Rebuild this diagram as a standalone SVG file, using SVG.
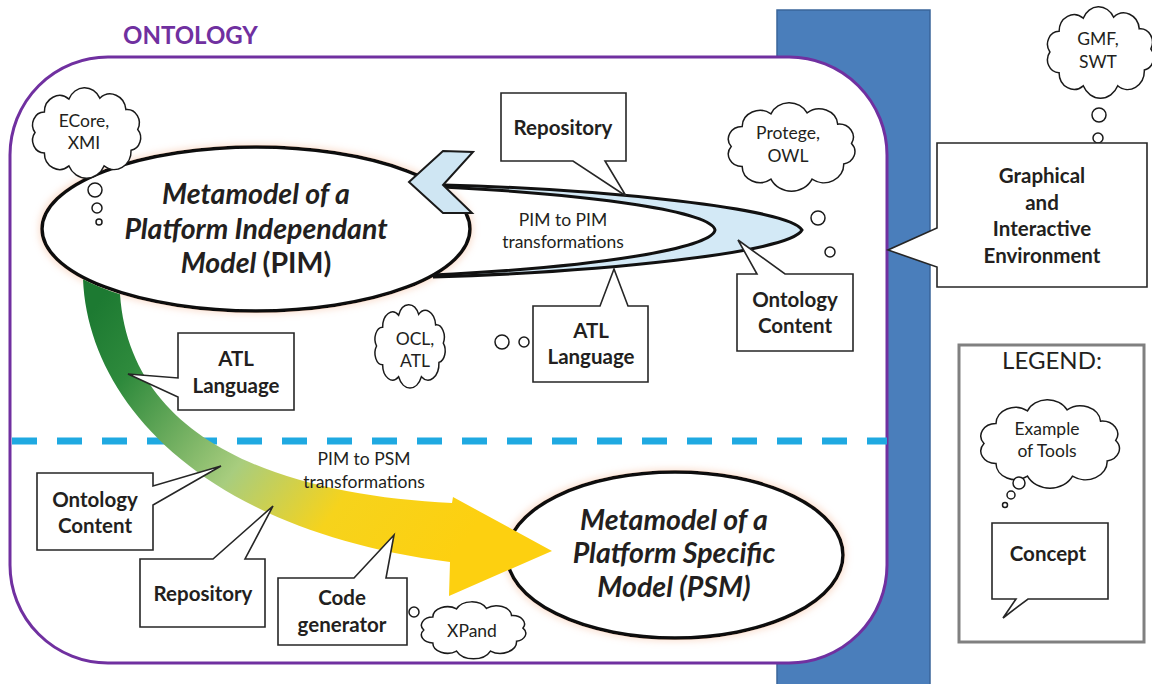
<svg xmlns="http://www.w3.org/2000/svg" width="1152" height="684" viewBox="0 0 1152 684">
<defs>
<style>
.cloud{fill:#fff;stroke:#1a1a1a;stroke-width:1.5}
.bub{fill:#fff;stroke:#1a1a1a;stroke-width:1.5}
.call{fill:#fff;stroke:#262626;stroke-width:1.6;stroke-linejoin:miter}
.ell{fill:#fff;stroke:#111;stroke-width:3.5}
.t{font-family:Lato,'Open Sans',sans-serif;fill:#231f20;text-anchor:middle}
.tb{font-weight:bold;font-size:20.5px}
.tc{font-size:17.5px}
.big{font-weight:bold;font-style:italic;font-size:28.5px}
.loop{fill:none;stroke:#111;stroke-width:3}
</style>
<symbol id="cloud" viewBox="0 0 100 70" preserveAspectRatio="none" overflow="visible">
<path class="cloud" vector-effect="non-scaling-stroke" d="M6,35 A10,10 0 0 1 14,18.9 A13,13 0 0 1 35,8.7 A14.5,14.5 0 0 1 61.4,8 A13.5,13.5 0 0 1 83.7,17 A10.5,10.5 0 0 1 93.8,32.6 A10,10 0 0 1 88.1,49 A14.5,14.5 0 0 1 65,61.3 A16.5,16.5 0 0 1 35,61.3 A13,13 0 0 1 14,51.1 A10,10 0 0 1 6,35 Z"/>
</symbol>
<linearGradient id="band" gradientUnits="userSpaceOnUse" x1="100" y1="300" x2="450" y2="560">
<stop offset="0" stop-color="#1d7a32"/>
<stop offset="0.15" stop-color="#2e8a3c"/>
<stop offset="0.48" stop-color="#a8cd7e"/>
<stop offset="0.72" stop-color="#f6d31c"/>
<stop offset="1" stop-color="#fdd010"/>
</linearGradient>
<filter id="glow" x="-10%" y="-20%" width="120%" height="140%">
<feMorphology in="SourceAlpha" operator="dilate" radius="2" result="d"/>
<feGaussianBlur in="d" stdDeviation="3" result="b"/>
<feFlood flood-color="#f3b38f" flood-opacity="0.35"/>
<feComposite in2="b" operator="in" result="g"/>
<feMerge><feMergeNode in="g"/><feMergeNode in="SourceGraphic"/></feMerge>
</filter>
</defs>

<g id="environment-bar">
<rect x="777" y="10" width="153" height="680" fill="#4a7ebb" stroke="#3a659a" stroke-width="1.5"/>
</g>

<g id="ontology-container">
<rect x="10" y="57" width="877" height="606" rx="98" ry="98" fill="#fff" stroke="#7030a0" stroke-width="3"/>
<text x="123" y="44" font-family="Lato,'Open Sans',sans-serif" font-weight="bold" font-size="24" fill="#7030a0">ONTOLOGY</text>
</g>

<g id="pim">
<ellipse class="ell" cx="256" cy="229" rx="214" ry="82" filter="url(#glow)"/>
<text class="t big" x="256" y="204">Metamodel of a</text>
<text class="t big" x="256" y="239">Platform Independant</text>
<text class="t big" x="256" y="273">Model <tspan font-style="normal">(PIM)</tspan></text>
</g>

<g id="psm">
<ellipse class="ell" cx="675" cy="555" rx="168" ry="83" filter="url(#glow)"/>
<text class="t big" x="674" y="530">Metamodel of a</text>
<text class="t big" x="674" y="563">Platform Specific</text>
<text class="t big" x="674" y="597">Model (PSM)</text>
</g>

<g id="connectors">
<line x1="12" y1="441" x2="887" y2="441" stroke="#1fa9e1" stroke-width="7" stroke-dasharray="25 20"/>
<path d="M83,279.3 C88,400 200,530 450,562 L449,596 L552,551 L453,497 L452,503 C280,495 130,440 120,294.3 A216,84 0 0 1 83,279.3 Z" fill="url(#band)"/>
<path d="M443,185 C600,189 790,208 802,230 C790,253 600,272 433,277 L433,275 C600,267 712,248 715,230 C712,212 600,195 443,187 Z" fill="#d3e9f6"/>
<path class="loop" d="M443,185 C600,189 790,208 802,230 C790,253 600,272 433,277"/>
<path class="loop" d="M443,187 C600,195 712,212 715,230 C712,248 600,267 433,275"/>
<path d="M409,182 L443,151 L473,152 L443,185 L472,213 L443,213 Z" fill="#cfe6f3" stroke="#1a1a1a" stroke-width="2" stroke-linejoin="miter"/>
<text class="t tc" x="563" y="226">PIM to PIM</text>
<text class="t tc" x="563" y="248">transformations</text>
<text class="t tc" x="364" y="465">PIM to PSM</text>
<text class="t tc" x="364" y="488">transformations</text>
</g>

<g id="cloud-ecore">
<use href="#cloud" x="28" y="88" width="117" height="89"/>
<circle class="bub" cx="95" cy="190" r="7"/>
<circle class="bub" cx="97" cy="208" r="5"/>
<circle class="bub" cx="99" cy="222" r="3"/>
<text class="t tc" x="84" y="127">ECore,</text>
<text class="t tc" x="84" y="149">XMI</text>
</g>

<g id="cloud-protege">
<use href="#cloud" x="723" y="103" width="137" height="87"/>
<circle class="bub" cx="818" cy="218" r="7"/>
<circle class="bub" cx="830" cy="252" r="5"/>
<circle class="bub" cx="840" cy="280" r="3"/>
<text class="t tc" x="788" y="139">Protege,</text>
<text class="t tc" x="788" y="162">OWL</text>
</g>

<g id="cloud-gmf">
<use href="#cloud" x="1043" y="7" width="115" height="90"/>
<circle class="bub" cx="1099" cy="115" r="7"/>
<circle class="bub" cx="1098" cy="138" r="5"/>
<circle class="bub" cx="1098" cy="159" r="3"/>
<text class="t tc" x="1098" y="45">GMF,</text>
<text class="t tc" x="1098" y="68">SWT</text>
</g>

<g id="cloud-ocl">
<use href="#cloud" x="372" y="305" width="76" height="82"/>
<circle class="bub" cx="502" cy="342" r="7"/>
<circle class="bub" cx="524" cy="342" r="5"/>
<circle class="bub" cx="542" cy="340" r="3"/>
<text class="t tc" x="415" y="345">OCL,</text>
<text class="t tc" x="415" y="367">ATL</text>
</g>

<g id="cloud-xpand">
<use href="#cloud" x="417" y="602" width="113" height="56"/>
<circle class="bub" cx="414" cy="612" r="5"/>
<circle class="bub" cx="397" cy="606" r="3.5"/>
<circle class="bub" cx="383" cy="602" r="2"/>
<text class="t tc" x="472" y="637">XPand</text>
</g>

<g id="callout-repository-top">
<path class="call" d="M501,93 H626 V161 H605 L626,196 L573,161 H501 Z"/>
<text class="t tb" x="563" y="135">Repository</text>
</g>

<g id="callout-atl-top">
<path class="call" d="M533,306 H600 L614,269 L628,306 H648 V382 H533 Z"/>
<text class="t tb" x="591" y="338">ATL</text>
<text class="t tb" x="591" y="364">Language</text>
</g>

<g id="callout-ontology-right">
<path class="call" d="M737,274 H757 L738,240 L785,274 H853 V351 H737 Z"/>
<text class="t tb" x="795" y="307">Ontology</text>
<text class="t tb" x="795" y="333">Content</text>
</g>

<g id="callout-graphical">
<path class="call" d="M937,143 H1147 V287 H937 V267 L888,250 L937,228 Z"/>
<text class="t tb" x="1042" y="183">Graphical</text>
<text class="t tb" x="1042" y="210">and</text>
<text class="t tb" x="1042" y="236">Interactive</text>
<text class="t tb" x="1042" y="263">Environment</text>
</g>

<g id="callout-atl-left">
<path class="call" d="M178,333 H294 V410 H178 V397 L128,374 L178,378 Z"/>
<text class="t tb" x="236" y="366">ATL</text>
<text class="t tb" x="236" y="393">Language</text>
</g>

<g id="callout-ontology-left">
<path class="call" d="M37,473 H153 V486 L221,466 L153,505 V550 H37 Z"/>
<text class="t tb" x="95" y="507">Ontology</text>
<text class="t tb" x="95" y="533">Content</text>
</g>

<g id="callout-repository-bottom">
<path class="call" d="M140,559 H213 L273,506 L245,559 H265 V627 H140 Z"/>
<text class="t tb" x="203" y="601">Repository</text>
</g>

<g id="callout-code-generator">
<path class="call" d="M278,578 H354 L394,535 L386,578 H407 V645 H278 Z"/>
<text class="t tb" x="342" y="605">Code</text>
<text class="t tb" x="342" y="632">generator</text>
</g>

<g id="legend">
<rect x="959" y="345" width="185" height="297" fill="#fff" stroke="#808080" stroke-width="3"/>
<text class="t" x="1052" y="369" font-size="24">LEGEND:</text>
<use href="#cloud" x="975" y="400" width="150" height="87"/>
<circle class="bub" cx="1019" cy="483" r="6"/>
<circle class="bub" cx="1011" cy="495" r="4"/>
<circle class="bub" cx="1005" cy="505" r="2.5"/>
<text class="t tc" x="1047" y="435">Example</text>
<text class="t tc" x="1047" y="457">of Tools</text>
<path class="call" d="M992,523 H1108 V599 H1028 L1003,618 L1016,599 H992 Z"/>
<text class="t tb" x="1048" y="561">Concept</text>
</g>
</svg>
